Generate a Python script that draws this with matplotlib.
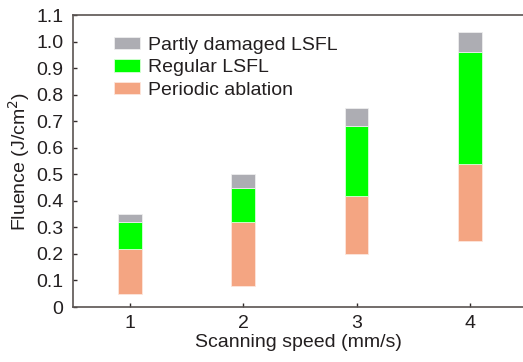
import matplotlib.pyplot as plt
import numpy as np

plt.rcParams['font.family'] = ['Liberation Sans', 'DejaVu Sans']

speeds = [1, 2, 3, 4]
# fluence boundaries (J/cm^2)
ablation_low = [0.05, 0.08, 0.20, 0.25]
ablation_high = [0.22, 0.32, 0.42, 0.54]
regular_high = [0.32, 0.45, 0.68, 0.96]
damaged_high = [0.35, 0.50, 0.75, 1.035]

c_abl = "#F4A582"
c_reg = "#00FF00"
c_dam = "#ADADB3"

fig = plt.figure(figsize=(5.23, 3.62), dpi=100)
ax = fig.add_axes([73/523, 1-307/362, 450/523, 292/362])

x = np.array(speeds)
lo = np.array(ablation_low)
ah = np.array(ablation_high)
rh = np.array(regular_high)
dh = np.array(damaged_high)
w = 0.21
ax.bar(x, ah - lo, w, bottom=lo, color=c_abl, edgecolor="#fde6dc", linewidth=0.6, label="Periodic ablation")
ax.bar(x, rh - ah, w, bottom=ah, color=c_reg, edgecolor="#d8ffd8", linewidth=0.6, label="Regular LSFL")
ax.bar(x, dh - rh, w, bottom=rh, color=c_dam, edgecolor="#eeeeee", linewidth=0.6, label="Partly damaged LSFL")

ax.set_xlim(0.497, 4.47)
ax.set_ylim(0, 1.1)
ax.set_xticks(speeds)
ax.set_yticks(np.arange(0, 1.11, 0.1))
ax.set_yticklabels(["0"] + ["%.1f" % v for v in np.arange(0.1, 1.11, 0.1)])

for s in ["left", "bottom", "top"]:
    ax.spines[s].set_color("#5a5452")
    ax.spines[s].set_linewidth(1.2)
ax.spines["right"].set_visible(False)
ax.tick_params(direction="in", length=3, width=1, color="#332c2b", labelsize=14,
               labelcolor="#231f20", pad=6)
ax.tick_params(axis="y", pad=7)

ax.set_xlabel("Scanning speed (mm/s)", fontsize=14, color="#231f20", labelpad=1)
ax.set_ylabel("Fluence (J/cm$^2$)", fontsize=14, color="#231f20", labelpad=3)

h, l = ax.get_legend_handles_labels()
fig.legend(h[::-1], l[::-1], loc="upper left", bbox_to_anchor=(114/523, 1-37/362),
           frameon=False, fontsize=14, borderpad=0, borderaxespad=0,
           handlelength=1.35, handleheight=0.6, handletextpad=0.4, labelspacing=0.27,
           labelcolor="#231f20")

fig.savefig("out.png", dpi=100)
